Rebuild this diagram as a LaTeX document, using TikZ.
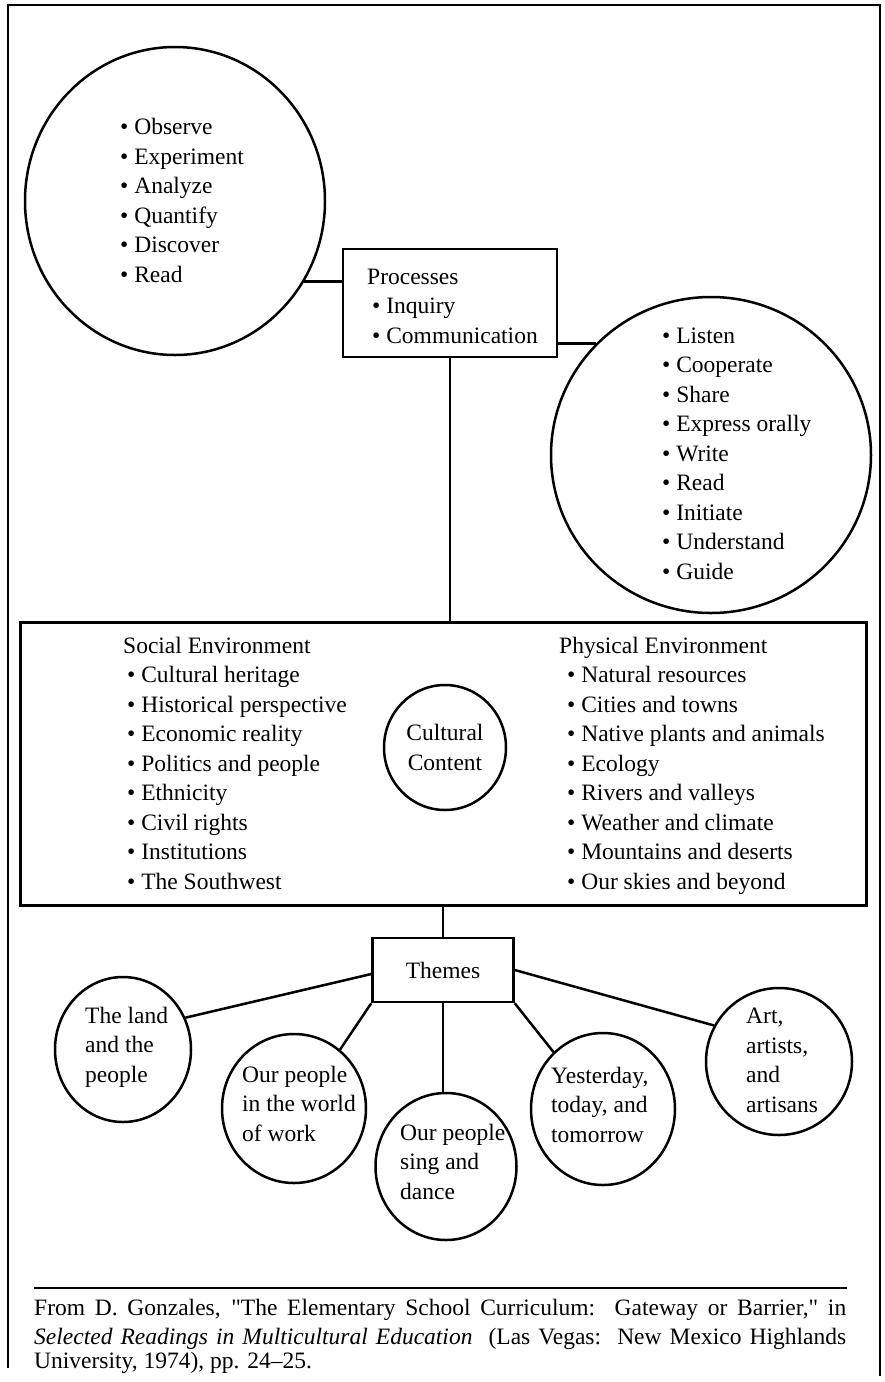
\documentclass[tikz,border=0pt]{standalone}
\usepackage{fontspec}
\setmainfont{Liberation Serif}
\newfontfamily\plainrm{Liberation Serif}
\newcommand{\sq}{{\plainrm"}}
\usetikzlibrary{shapes.geometric}
\begin{document}
\begin{tikzpicture}[x=1pt,y=-1pt,
  every node/.style={font=\fontsize{23.5}{29.5}\selectfont},
  oval/.style={draw, ellipse, line width=2.5pt, inner sep=0pt},
  boxed/.style={draw, rectangle, line width=2.5pt, inner sep=0pt},
  txt/.style={inner sep=0pt, align=left, anchor=base west},
  conn/.style={line width=2.5pt}]
\useasboundingbox (0,0) rectangle (885,1382);
% outer frame (open at the bottom)
\draw[line width=2pt] (8,1368) -- (8,5) -- (880,5) -- (880,1376);

% top part (text nodes are placed by the baseline of their last line)
\node[oval, minimum width=300, minimum height=308] (lc) at (175,201) {};
\node[txt] (lcT) at (120,282) {\textbullet\ Observe\\ \textbullet\ Experiment\\ \textbullet\ Analyze\\ \textbullet\ Quantify\\ \textbullet\ Discover\\ \textbullet\ Read};

\node[boxed, minimum width=214, minimum height=108] (proc) at (450,303) {};
\node[txt] (procT) at (367,343) {Processes\\ \hspace*{5pt}\textbullet\ Inquiry\\ \hspace*{5pt}\textbullet\ Communication};

\node[oval, minimum width=320, minimum height=316] (rc) at (711,455) {};
\node[txt] (rcT) at (662,579) {\textbullet\ Listen\\ \textbullet\ Cooperate\\ \textbullet\ Share\\ \textbullet\ Express orally\\ \textbullet\ Write\\ \textbullet\ Read\\ \textbullet\ Initiate\\ \textbullet\ Understand\\ \textbullet\ Guide};

\draw[conn] (lc.-32.4) -- (lc.-32.4 -| proc.west);
\draw[conn] (rc.136.7) -- (rc.136.7 -| proc.east);

% cultural content box
\node[boxed, line width=3pt, minimum width=846, minimum height=283] (big) at (443,763.5) {};
\draw[conn, line width=2pt] (proc.south) -- (proc.south |- big.north);
\node[txt] (socT) at (123,889) {Social Environment\\ \hspace*{4pt}\textbullet\ Cultural heritage\\ \hspace*{4pt}\textbullet\ Historical perspective\\ \hspace*{4pt}\textbullet\ Economic reality\\ \hspace*{4pt}\textbullet\ Politics and people\\ \hspace*{4pt}\textbullet\ Ethnicity\\ \hspace*{4pt}\textbullet\ Civil rights\\ \hspace*{4pt}\textbullet\ Institutions\\ \hspace*{4pt}\textbullet\ The Southwest};
\node[txt] (phyT) at (559,889) {Physical Environment\\ \hspace*{8pt}\textbullet\ Natural resources\\ \hspace*{8pt}\textbullet\ Cities and towns\\ \hspace*{8pt}\textbullet\ Native plants and animals\\ \hspace*{8pt}\textbullet\ Ecology\\ \hspace*{8pt}\textbullet\ Rivers and valleys\\ \hspace*{8pt}\textbullet\ Weather and climate\\ \hspace*{8pt}\textbullet\ Mountains and deserts\\ \hspace*{8pt}\textbullet\ Our skies and beyond};
\node[oval, minimum width=122, minimum height=125, align=center] (cc) at (445,747.5) {Cultural\\Content};

% themes
\node[boxed, minimum width=141, minimum height=64] (themes) at (443,970) {Themes};
\draw[conn, line width=2pt] (themes.north) -- (themes.north |- big.south);

\node[oval, minimum width=136, minimum height=145] (t1) at (123,1049.5) {};
\node[oval, minimum width=144, minimum height=149] (t2) at (294,1108.5) {};
\node[oval, minimum width=141, minimum height=147] (t3) at (446,1166.5) {};
\node[oval, minimum width=144, minimum height=152] (t4) at (603,1109) {};
\node[oval, minimum width=146, minimum height=147] (t5) at (779,1061.5) {};

\node[txt] (t1T) at (85,1082) {The land\\and the\\people};
\node[txt] (t2T) at (242,1141) {Our people\\in the world\\of work};
\node[txt] (t3T) at (400,1199) {Our people\\sing and\\dance};
\node[txt] (t4T) at (551,1142) {Yesterday,\\today, and\\tomorrow};
\node[txt] (t5T) at (746,1112) {Art,\\artists,\\and\\artisans};

\draw[conn] ([yshift=-4pt]themes.west) -- (t1.27.6);
\draw[conn] (themes.south west) -- (t2.52);
\draw[conn, line width=2pt] (themes.south) -- (themes.south |- t3.north);
\draw[conn] (themes.south east) -- (t4.131);
\draw[conn] (themes.east) -- (t5.151.4);

% source note
\draw[line width=2pt] (34,1288) -- (847,1288);
\node[txt] (foot) at (34,1368) {\makebox[812pt][s]{From D. Gonzales, \sq The Elementary School Curriculum:\ \ Gateway or Barrier,\sq\ in}\\
\makebox[812pt][s]{\textit{Selected Readings in Multicultural Education}\ \ (Las Vegas:\ \ New Mexico Highlands}\\[-6pt]
University, 1974), pp. 24--25.};
\end{tikzpicture}
\end{document}
